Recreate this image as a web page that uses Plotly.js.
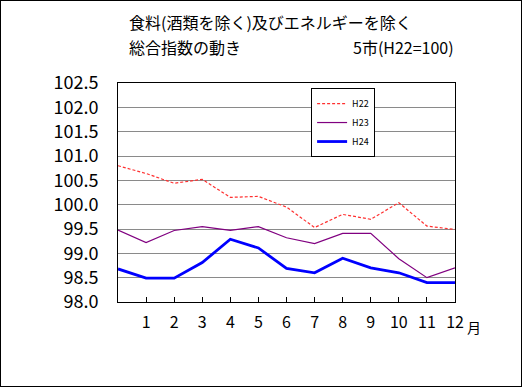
<!DOCTYPE html>
<html><head><meta charset="utf-8">
<script src="https://cdn.plot.ly/plotly-3.0.1.min.js"></script>
<style>html,body{margin:0;padding:0;background:#fff}#c{width:522px;height:387px;box-sizing:border-box;border:1px solid #000}</style>
</head><body><div id="c"></div>
<script>
const months = [0,1,2,3,4,5,6,7,8,9,10,11,12];
const tickLabels = ["1","2","3","4","5","6","7","8","9","10","11","12"];
const h22 = [100.80,100.64,100.44,100.52,100.15,100.17,99.95,99.53,99.80,99.70,100.04,99.56,99.49];
const h23 = [99.48,99.22,99.47,99.55,99.47,99.55,99.32,99.20,99.41,99.41,98.89,98.50,98.70];
const h24 = [98.68,98.49,98.49,98.81,99.29,99.11,98.69,98.60,98.90,98.70,98.60,98.40,98.40];
const seriesNames = ["H22","H23","H24"];
const yTicks = [98.0,98.5,99.0,99.5,100.0,100.5,101.0,101.5,102.0,102.5];

const F = '"Noto Sans CJK JP", "DejaVu Sans", sans-serif';
const traces = [
  {x: months, y: h22, name: seriesNames[0], mode:'lines', line:{color:'#ff3030', width:1.2, dash:'3px,2px'}},
  {x: months, y: h23, name: seriesNames[1], mode:'lines', line:{color:'#800080', width:1.2}},
  {x: months, y: h24, name: seriesNames[2], mode:'lines', line:{color:'#0000ff', width:2.8}}
];
const layout = {
  width: 520, height: 385,
  margin: {l:117, r:66, t:82, b:84},
  paper_bgcolor:'#fff', plot_bgcolor:'#fff',
  font:{family:F, color:'#000'},
  showlegend:true,
  legend:{x:0.573, y:0.977, xanchor:'left', yanchor:'top', bgcolor:'#fff', bordercolor:'#000', borderwidth:1,
          font:{family:F, size:9, color:'#000'}, tracegroupgap:0, itemwidth:30},
  xaxis:{range:[0,12], tickvals:months.slice(1), ticktext:tickLabels, ticks:'inside', ticklen:5, tickcolor:'#000',
         ticklabelstandoff:6,
         showgrid:false, zeroline:false, showline:true, mirror:true, linecolor:'#000', linewidth:1,
         tickfont:{family:F, size:16}, fixedrange:true},
  yaxis:{range:[98,102.5], tickvals:yTicks, ticktext:yTicks.map(v=>v.toFixed(1)), ticks:'', ticklabelstandoff:15,
         showgrid:true, gridcolor:'#8a8a8a', gridwidth:1, zeroline:false, showline:true, mirror:true, linecolor:'#000', linewidth:1,
         tickfont:{family:F, size:18}, fixedrange:true},
  annotations:[
    {xref:'paper', yref:'paper', x:0.027, y:1.0, xanchor:'left', yanchor:'bottom', yshift:47, showarrow:false,
     text:'食料(酒類を除く)及びエネルギーを除く', font:{family:F, size:16}},
    {xref:'paper', yref:'paper', x:0.027, y:1.0, xanchor:'left', yanchor:'bottom', yshift:22, showarrow:false,
     text:'総合指数の動き', font:{family:F, size:16}},
    {xref:'paper', yref:'paper', x:0.69, y:1.0, xanchor:'left', yanchor:'bottom', yshift:22, showarrow:false,
     text:'5市(H22=100)', font:{family:F, size:16}},
    {xref:'x', yref:'paper', x:12, y:0, xanchor:'left', yanchor:'top', xshift:10, yshift:-13, showarrow:false,
     text:'月', font:{family:F, size:14}}
  ]
};
Plotly.newPlot('c', traces, layout, {displayModeBar:false, staticPlot:true});
</script></body></html>
